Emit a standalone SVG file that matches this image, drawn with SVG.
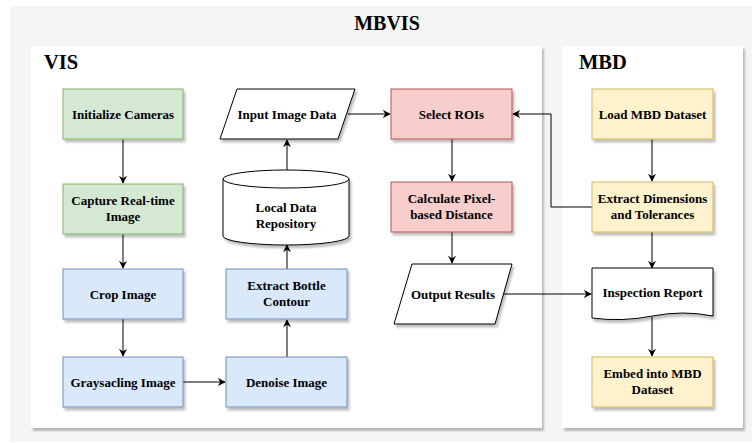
<svg xmlns="http://www.w3.org/2000/svg" width="752" height="443" viewBox="0 0 752 443" font-family="'Liberation Serif', 'DejaVu Serif', 'Noto Serif', serif">
<defs>
<filter id="sh" x="-10%" y="-10%" width="130%" height="140%">
<feDropShadow dx="2" dy="3" stdDeviation="1" flood-color="#000" flood-opacity="0.25"/>
</filter>
<marker id="ah" viewBox="0 0 10 10" refX="9" refY="5" markerWidth="8" markerHeight="8" markerUnits="userSpaceOnUse" orient="auto">
<path d="M0,0 L10,5 L0,10 L3,5 Z" fill="#000"/>
</marker>
</defs>
<style>
text{font-family:'Liberation Serif','DejaVu Serif','Noto Serif',serif;font-weight:bold;fill:#000}
.lbl{font-size:13px;text-anchor:middle}
.green{fill:#d5e8d4;stroke:#82b366;stroke-width:1}
.blue{fill:#dae8fc;stroke:#6c8ebf;stroke-width:1}
.red{fill:#f8cecc;stroke:#b85450;stroke-width:1}
.yellow{fill:#fff2cc;stroke:#d6b656;stroke-width:1}
.white{fill:#fff;stroke:#000;stroke-width:1}
.conn path{fill:none;stroke:#000;stroke-width:1;marker-end:url(#ah)}
</style>
<rect width="752" height="443" fill="#fff"/>
<g id="mbvis">
<rect x="10" y="6" width="742" height="436" fill="#f5f5f5"/>
<text x="387" y="30" font-size="20" text-anchor="middle">MBVIS</text>
</g>
<g id="vis-panel">
<rect x="31" y="46" width="511" height="382" fill="#fff" filter="url(#sh)"/>
<text x="44" y="69" font-size="20.5">VIS</text>
</g>
<g id="mbd-panel">
<rect x="562" y="46" width="181" height="382" fill="#fff" filter="url(#sh)"/>
<text x="579" y="69" font-size="20.5">MBD</text>
</g>
<g class="conn" id="connectors">
<path d="M123,139 V183"/>
<path d="M123,234 V268"/>
<path d="M123,319 V356"/>
<path d="M183,382 H225"/>
<path d="M287,357 V320"/>
<path d="M287,269 V245"/>
<path d="M287,170 V140"/>
<path d="M348,114 H390"/>
<path d="M592,207 H551 V114 H513"/>
<path d="M452,139 V181"/>
<path d="M452,232 V263"/>
<path d="M503,294 H591"/>
<path d="M652,139 V181"/>
<path d="M652,232 V268"/>
<path d="M652,317 V356"/>
</g>
<g id="initialize-cameras">
<rect class="green" x="63" y="89" width="120" height="50" filter="url(#sh)"/>
<text class="lbl" x="123" y="118.5">Initialize Cameras</text>
</g>
<g id="capture-image">
<rect class="green" x="63" y="184" width="120" height="50" filter="url(#sh)"/>
<text class="lbl" x="123" y="205">Capture Real-time</text>
<text class="lbl" x="123" y="221">Image</text>
</g>
<g id="crop-image">
<rect class="blue" x="63" y="269" width="120" height="50" filter="url(#sh)"/>
<text class="lbl" x="123" y="298.5">Crop Image</text>
</g>
<g id="graysacling-image">
<rect class="blue" x="63" y="357" width="120" height="50" filter="url(#sh)"/>
<text class="lbl" x="123" y="386.5">Graysacling Image</text>
</g>
<g id="denoise-image">
<rect class="blue" x="226" y="357" width="121" height="50" filter="url(#sh)"/>
<text class="lbl" x="286.5" y="386.5">Denoise Image</text>
</g>
<g id="extract-bottle-contour">
<rect class="blue" x="226" y="269" width="121" height="50" filter="url(#sh)"/>
<text class="lbl" x="286.5" y="290">Extract Bottle</text>
<text class="lbl" x="286.5" y="306">Contour</text>
</g>
<g id="local-data-repository">
<path class="white" d="M223,179 A63,9 0 0 1 349,179 V236 A63,9 0 0 1 223,236 Z" filter="url(#sh)"/>
<path d="M223,179 A63,9 0 0 0 349,179" fill="none" stroke="#000"/>
<text class="lbl" x="286" y="212">Local Data</text>
<text class="lbl" x="286" y="228">Repository</text>
</g>
<g id="input-image-data">
<polygon class="white" points="237,89 355,89 338,139 220,139" filter="url(#sh)"/>
<text class="lbl" x="287" y="118.5">Input Image Data</text>
</g>
<g id="select-rois">
<rect class="red" x="391" y="89" width="121" height="50" filter="url(#sh)"/>
<text class="lbl" x="451.5" y="118.5">Select ROIs</text>
</g>
<g id="calculate-distance">
<rect class="red" x="391" y="182" width="121" height="50" filter="url(#sh)"/>
<text class="lbl" x="451.5" y="203">Calculate Pixel-</text>
<text class="lbl" x="451.5" y="219">based Distance</text>
</g>
<g id="output-results">
<polygon class="white" points="412,264 512,264 495,324 394,324" filter="url(#sh)"/>
<text class="lbl" x="453" y="298.5">Output Results</text>
</g>
<g id="load-mbd-dataset">
<rect class="yellow" x="592" y="89" width="121" height="50" filter="url(#sh)"/>
<text class="lbl" x="652.5" y="118.5">Load MBD Dataset</text>
</g>
<g id="extract-dimensions">
<rect class="yellow" x="592" y="182" width="121" height="50" filter="url(#sh)"/>
<text class="lbl" x="652.5" y="203">Extract Dimensions</text>
<text class="lbl" x="652.5" y="219">and Tolerances</text>
</g>
<g id="inspection-report">
<path class="white" d="M592,268 H713 V316 Q683,310 652.5,316 T592,318 Z" filter="url(#sh)"/>
<text class="lbl" x="652.5" y="297">Inspection Report</text>
</g>
<g id="embed-mbd">
<rect class="yellow" x="592" y="357" width="121" height="50" filter="url(#sh)"/>
<text class="lbl" x="652.5" y="378">Embed into MBD</text>
<text class="lbl" x="652.5" y="394">Dataset</text>
</g>
</svg>
